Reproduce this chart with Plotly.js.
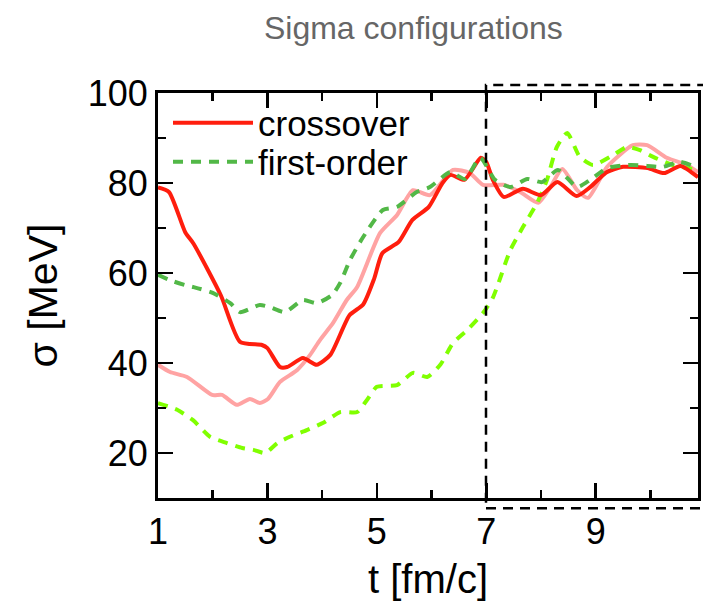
<!DOCTYPE html>
<html>
<head>
<meta charset="utf-8">
<script src="https://cdn.plot.ly/plotly-3.0.1.min.js"></script>
<style>html,body{margin:0;padding:0;background:#fff}#chart{width:703px;height:610px}</style>
</head>
<body>
<div id="chart"></div>
<script>
// crossover (red solid)
const crossT = [1.0, 1.2, 1.5, 1.65, 2.15, 2.5, 2.9, 3.0, 3.23, 3.36, 3.65, 3.9, 4.15, 4.5, 4.75, 4.95, 5.1, 5.4, 5.65, 5.95, 6.2, 6.35, 6.6, 6.9, 7.0, 7.12, 7.32, 7.67, 8.0, 8.3, 8.65, 8.9, 9.2, 9.5, 9.95, 10.25, 10.55, 10.87];
const crossY = [79, 78, 69, 66.5, 55, 44.7, 44, 43.3, 39.1, 39.1, 41.1, 39.6, 41.8, 50.6, 53, 58.7, 64.4, 66.9, 71.8, 74.7, 80, 81.8, 80.7, 85.6, 84.7, 80.7, 76.9, 78.7, 77.3, 80.2, 77.1, 79.1, 82.4, 83.6, 83.3, 82.2, 83.8, 81.3];
// crossover companion (pink solid)
const pinkT = [1.0, 1.22, 1.53, 1.99, 2.17, 2.44, 2.68, 2.86, 3.01, 3.23, 3.54, 3.78, 3.96, 4.2, 4.45, 4.64, 5.06, 5.37, 5.66, 5.97, 6.39, 6.7, 6.94, 7.31, 7.62, 7.95, 8.17, 8.39, 8.66, 8.86, 9.21, 9.68, 9.94, 10.3, 10.67, 10.87];
const pinkY = [39.6, 38, 36.9, 32.9, 32.9, 30.7, 32, 31.1, 32, 35.8, 38.4, 41.8, 45.1, 48.9, 54, 56.9, 68.9, 72.9, 78.4, 77.3, 82.9, 82.2, 79.6, 79.6, 78, 75.6, 79.1, 83.1, 78.4, 76.7, 83.6, 88.4, 88.4, 85.6, 84, 82.4];
// first-order (green dashed)
const firstT = [1.0, 1.22, 1.5, 1.64, 2.0, 2.32, 2.5, 2.86, 3.05, 3.32, 3.65, 3.9, 4.18, 4.33, 4.51, 4.75, 5.11, 5.37, 5.73, 5.97, 6.34, 6.61, 6.89, 7.16, 7.44, 7.75, 8.02, 8.31, 8.66, 8.9, 9.21, 9.63, 9.94, 10.23, 10.54, 10.87];
const firstY = [59.6, 58.4, 57.3, 56.9, 55.6, 53.3, 51.3, 52.9, 52.4, 51.3, 54, 53.3, 55.1, 57.8, 62.9, 68, 74, 74.7, 78, 79.1, 82.4, 80.9, 85.6, 80.7, 79.1, 80.9, 80.2, 82.9, 79.1, 80.7, 83.3, 84, 83.8, 83.6, 84.7, 83.3];
// first-order companion (light green dashed)
const limeT = [1.0, 1.35, 1.64, 1.95, 2.26, 2.54, 2.74, 2.96, 3.18, 3.41, 3.72, 4.02, 4.33, 4.64, 4.82, 5.0, 5.37, 5.66, 5.92, 6.16, 6.39, 6.65, 6.94, 7.12, 7.44, 7.67, 7.93, 8.11, 8.29, 8.48, 8.71, 8.95, 9.32, 9.57, 9.81, 10.05, 10.41, 10.87];
const limeY = [31.1, 29.6, 27.3, 23.6, 22.2, 21.1, 20.7, 20, 22.2, 23.6, 25.1, 26.7, 29.1, 29.1, 31.8, 34.7, 35.1, 37.8, 36.9, 39.6, 44.4, 47.3, 51.1, 54.5, 65.1, 70.2, 75.6, 80.7, 88, 91.1, 85.8, 84, 86.2, 88, 87.3, 85.8, 84, 82.9];

const xTickVals = [1, 3, 5, 7, 9];
const xTickText = ['1', '3', '5', '7', '9'];
const yTickVals = [20, 40, 60, 80, 100];
const yTickText = ['20', '40', '60', '80', '100'];
const seriesNames = ['crossover', 'first-order'];

const FONT = 'Liberation Sans, Arial, Helvetica, sans-serif';

const traces = [
  {x: pinkT, y: pinkY, type: 'scatter', mode: 'lines', showlegend: false, hoverinfo: 'skip',
   line: {color: '#ffa3a3', width: 4, shape: 'spline', smoothing: 0.6}},
  {x: limeT, y: limeY, type: 'scatter', mode: 'lines', showlegend: false,
   line: {color: '#80ff00', width: 4, dash: '10px,8px', shape: 'spline', smoothing: 0.6}},
  {x: crossT, y: crossY, type: 'scatter', mode: 'lines', name: seriesNames[0], legend: 'legend',
   line: {color: '#ff1e0e', width: 4, shape: 'spline', smoothing: 0.6}},
  {x: firstT, y: firstY, type: 'scatter', mode: 'lines', name: seriesNames[1], legend: 'legend2',
   line: {color: '#52b847', width: 4, dash: '10px,8px', shape: 'spline', smoothing: 0.6}}
];

const axisCommon = {
  showgrid: false, zeroline: false, showline: true, linecolor: '#000', linewidth: 3,
  mirror: 'ticks', ticks: 'inside', ticklen: 15, tickwidth: 2.5, tickcolor: '#000',
  tickfont: {family: FONT, size: 36, color: '#000'}
};

const legendCommon = {
  bgcolor: 'rgba(0,0,0,0)', borderwidth: 0, itemwidth: 80,
  font: {family: FONT, size: 35, color: '#000'},
  xanchor: 'left', yanchor: 'middle', itemclick: false, itemdoubleclick: false
};

const layout = {
  width: 703, height: 610,
  margin: {l: 158, r: 5, t: 93, b: 112},
  paper_bgcolor: '#fff', plot_bgcolor: '#fff',
  title: {text: 'Sigma configurations', font: {family: FONT, size: 32, color: '#666'},
          xref: 'container', x: 0.588, xanchor: 'center', yref: 'container', y: 0.954, yanchor: 'middle'},
  xaxis: Object.assign({}, axisCommon, {
    range: [1, 10.87], tickmode: 'array', tickvals: xTickVals, ticktext: xTickText,
    minor: {dtick: 1, tick0: 0, ticks: 'inside', ticklen: 8, tickwidth: 2.5, tickcolor: '#000'},
    title: {text: 't [fm/c]', font: {family: FONT, size: 40, color: '#000'}, standoff: 14}
  }),
  yaxis: Object.assign({}, axisCommon, {
    range: [10, 100], tickmode: 'array', tickvals: yTickVals, ticktext: yTickText,
    minor: {dtick: 10, tick0: 0, ticks: 'inside', ticklen: 8, tickwidth: 2.5, tickcolor: '#000'},
    title: {text: 'σ [MeV]', font: {family: FONT, size: 41, color: '#000'}, standoff: 18}
  }),
  legend: Object.assign({}, legendCommon, {x: 10 / 540, y: (123 - 93) / -405 + 1}),
  legend2: Object.assign({}, legendCommon, {x: 10 / 540, y: (162 - 93) / -405 + 1}),
  shapes: [{
    type: 'rect', xref: 'paper', yref: 'paper',
    x0: (486 - 158) / 540, x1: 1.05, y0: -0.025, y1: 1.02,
    line: {color: '#000', width: 2.5, dash: '10px,7px'}, fillcolor: 'rgba(0,0,0,0)', layer: 'above'
  }],
  showlegend: true
};

Plotly.newPlot('chart', traces, layout, {displayModeBar: false, staticPlot: true});
</script>
</body>
</html>
